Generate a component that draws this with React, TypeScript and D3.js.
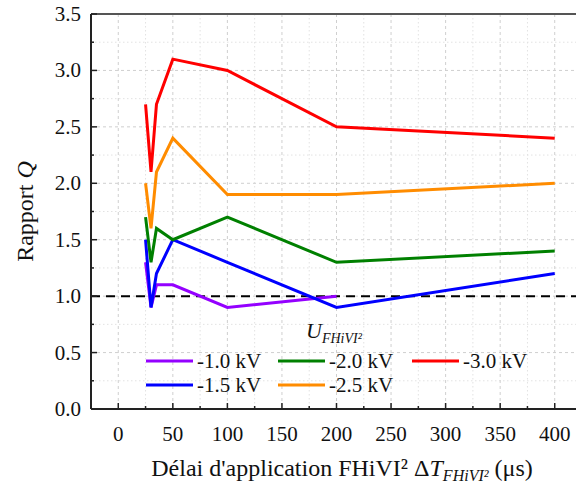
import React from "react";
import * as d3 from "d3";

const xValues = [25, 30, 35, 50, 100, 200, 400];
const series1_0 = [1.3, 0.9, 1.1, 1.1, 0.9, 1.0];
const series1_5 = [1.5, 0.9, 1.2, 1.5, 1.3, 0.9, 1.2];
const series2_0 = [1.7, 1.3, 1.6, 1.5, 1.7, 1.3, 1.4];
const series2_5 = [2.0, 1.6, 2.1, 2.4, 1.9, 1.9, 2.0];
const series3_0 = [2.7, 2.1, 2.7, 3.1, 3.0, 2.5, 2.4];
const seriesLabels = ["-1.0 kV", "-1.5 kV", "-2.0 kV", "-2.5 kV", "-3.0 kV"];
const seriesColors = ["#9400FF", "#0000FF", "#008000", "#FF8C00", "#FF0000"];
const xTicks = [0, 50, 100, 150, 200, 250, 300, 350, 400];
const yTicks = [0, 0.5, 1.0, 1.5, 2.0, 2.5, 3.0, 3.5];
const refValue = 1.0;

const W = 576, H = 488;
const L = 91, T = 14, B = 409, R = 582;

export default function App() {
  const x = d3.scaleLinear().domain([-25, 425]).range([L, R]);
  const y = d3.scaleLinear().domain([0, 3.5]).range([B, T]);
  const allSeries = [series1_0, series1_5, series2_0, series2_5, series3_0];
  const line = d3.line<[number, number]>().x(d => x(d[0])).y(d => y(d[1]));
  const minorX = d3.range(-25, 426, 25).filter(v => v % 50 !== 0);
  const minorY = d3.range(0.25, 3.5, 0.5);
  const font = "'Liberation Serif', 'DejaVu Serif', serif";

  const legendCols = [146, 278, 412];
  const legendRows = [361, 385];
  const legendPos = [
    [0, 0], [0, 1], [1, 0], [1, 1], [2, 0],
  ];

  return (
    <div style={{ position: "absolute", left: 0, top: 0, fontFamily: font }}>
    <svg width={W} height={H} style={{ display: "block", background: "#fff" }}>
      {minorX.map(v => (
        <line key={"mx" + v} x1={x(v)} x2={x(v)} y1={T} y2={B} stroke="#e2e2e2" strokeWidth={1} strokeDasharray="1.5,2.5" />
      ))}
      {minorY.map(v => (
        <line key={"my" + v} x1={L} x2={R} y1={y(v)} y2={y(v)} stroke="#e2e2e2" strokeWidth={1} strokeDasharray="1.5,2.5" />
      ))}
      {xTicks.map(v => (
        <line key={"gx" + v} x1={x(v)} x2={x(v)} y1={T} y2={B} stroke="#cfcfcf" strokeWidth={1} strokeDasharray="3,3" />
      ))}
      {yTicks.slice(1, -1).map(v => (
        <line key={"gy" + v} x1={L} x2={R} y1={y(v)} y2={y(v)} stroke="#cfcfcf" strokeWidth={1} strokeDasharray="3,3" />
      ))}
      <line x1={L} x2={R} y1={y(refValue)} y2={y(refValue)} stroke="#000" strokeWidth={2} strokeDasharray="9,6" />
      {allSeries.map((s, i) => (
        <path key={i} d={line(s.map((v, j) => [xValues[j], v] as [number, number])) || ""} fill="none"
          stroke={seriesColors[i]} strokeWidth={3} strokeLinejoin="miter" />
      ))}
      <line x1={L} x2={R} y1={B} y2={B} stroke="#222" strokeWidth={2} />
      <line x1={L} x2={R} y1={T} y2={T} stroke="#555" strokeWidth={2} />
      <line x1={L} x2={L} y1={T} y2={B} stroke="#222" strokeWidth={2} />
      {xTicks.map(v => (
        <g key={"xt" + v}>
          <line x1={x(v)} x2={x(v)} y1={B} y2={B - 6} stroke="#222" strokeWidth={1.5} />
          <text x={x(v)} y={441} textAnchor="middle" fontSize={21} fill="#111" fontFamily={font}>{v}</text>
        </g>
      ))}
      {minorX.map(v => (
        <line key={"xm" + v} x1={x(v)} x2={x(v)} y1={B} y2={B - 3} stroke="#222" strokeWidth={1.5} />
      ))}
      {yTicks.map(v => (
        <g key={"yt" + v}>
          <line x1={L} x2={L + 6} y1={y(v)} y2={y(v)} stroke="#222" strokeWidth={1.5} />
          <text x={81} y={y(v) + 7} textAnchor="end" fontSize={21} fill="#111" fontFamily={font}>{v.toFixed(1)}</text>
        </g>
      ))}
      {minorY.map(v => (
        <line key={"ym" + v} x1={L} x2={L + 3} y1={y(v)} y2={y(v)} stroke="#222" strokeWidth={1.5} />
      ))}
      <text transform={`translate(33, ${(T + B) / 2}) rotate(-90)`} textAnchor="middle" fontSize={24} fill="#111" fontFamily={font}>
        Rapport <tspan fontStyle="italic">Q</tspan>
      </text>
      <text x={342} y={476} textAnchor="middle" fontSize={24} fill="#111" fontFamily={font}>
        Délai d'application FHiVI² Δ<tspan fontStyle="italic">T</tspan>
        <tspan fontStyle="italic" fontSize={16} dy={5}>FHiVI²</tspan>
        <tspan dy={-5}> (μs)</tspan>
      </text>
      <text x={306} y={338} fontSize={22} fill="#111" fontStyle="italic" fontFamily={font}>
        U<tspan fontSize={14} dy={5}>FHiVI²</tspan>
      </text>
      {seriesLabels.map((lab, i) => {
        const [c, r] = legendPos[i];
        const lx = legendCols[c], ly = legendRows[r];
        return (
          <g key={"lg" + i}>
            <line x1={lx} x2={lx + 47} y1={ly} y2={ly} stroke={seriesColors[i]} strokeWidth={3} />
            <text x={lx + 51} y={ly + 7} fontSize={21} fill="#111" fontFamily={font}>{lab}</text>
          </g>
        );
      })}
    </svg>
    </div>
  );
}
